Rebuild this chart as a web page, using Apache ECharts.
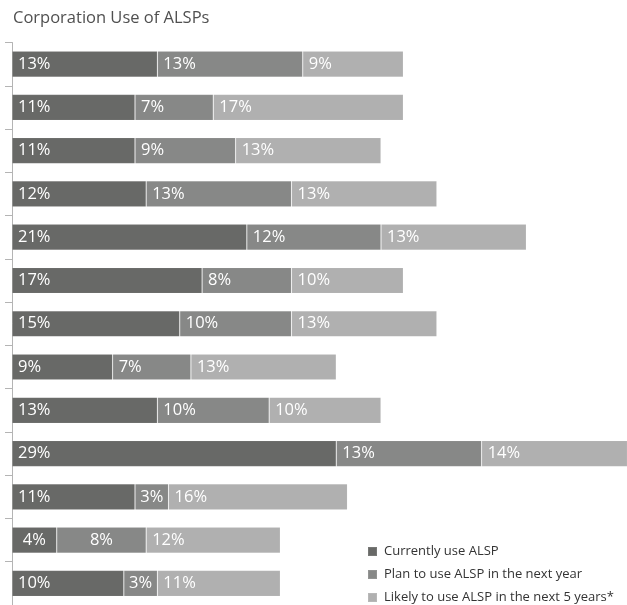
<!DOCTYPE html>
<html>
<head>
<meta charset="utf-8">
<script src="https://cdn.jsdelivr.net/npm/echarts@6/dist/echarts.min.js"></script>
<style>
  html, body { margin: 0; padding: 0; background: #fff; }
  #chart { width: 627px; height: 605px; }
</style>
</head>
<body>
<div id="chart"></div>
<script>
// Survey rows, listed top to bottom
const categories = ['1', '2', '3', '4', '5', '6', '7', '8', '9', '10', '11', '12', '13'];
const seriesNames = [
  'Currently use ALSP',
  'Plan to use ALSP in the next year',
  'Likely to use ALSP in the next 5 years*'
];
const currentlyUse = [13, 11, 11, 12, 21, 17, 15, 9, 13, 29, 11, 4, 10];
const planNextYear = [13, 7, 9, 13, 12, 8, 10, 7, 10, 13, 3, 8, 3];
const likelyFiveYears = [9, 17, 13, 13, 13, 10, 13, 13, 10, 14, 16, 12, 11];

const colors = ['#686967', '#878887', '#b0b0b0'];
const fontFamily = '"Open Sans", "Noto Sans", sans-serif';

// cells whose value label sits in the middle of the segment: [series, row]
const centeredCells = [[0, 11], [1, 11], [1, 10], [1, 12]];
const isCentered = (s, r) => centeredCells.some(c => c[0] === s && c[1] === r);

const allValues = [currentlyUse, planNextYear, likelyFiveYears];

const series = allValues.map((vals, s) => ({
  name: seriesNames[s],
  type: 'bar',
  stack: 'total',
  barWidth: 26,
  itemStyle: {
    color: colors[s],
    borderColor: 'rgba(255,255,255,0.1)',
    borderWidth: 0.8
  },
  label: {
    show: true,
    position: 'insideLeft',
    distance: 6,
    formatter: '{c}%',
    color: '#ffffff',
    fontSize: 16.5,
    fontFamily: fontFamily
  },
  data: vals.map((v, r) => isCentered(s, r)
    ? { value: v, label: { position: 'inside' } }
    : v)
}));

const chart = echarts.init(document.getElementById('chart'), null, { renderer: 'canvas' });
chart.setOption({
  animation: false,
  title: {
    text: 'Corporation Use of ALSPs',
    left: 8,
    top: 5,
    textStyle: {
      fontFamily: fontFamily,
      fontSize: 16.5,
      fontWeight: 'normal',
      color: '#505050'
    }
  },
  legend: {
    orient: 'vertical',
    left: 367,
    bottom: 0,
    height: 90,
    padding: [0, 5, 1, 0],
    itemWidth: 9,
    itemHeight: 9,
    itemGap: 10,
    icon: 'rect',
    data: seriesNames,
    textStyle: {
      fontFamily: fontFamily,
      fontSize: 13,
      color: '#333333',
      padding: [0, 0, 0, 2]
    }
  },
  grid: {
    left: 12,
    right: 0,
    top: 42.5,
    bottom: -5,
    containLabel: false
  },
  xAxis: {
    type: 'value',
    min: 0,
    max: 55,
    show: false
  },
  yAxis: {
    type: 'category',
    inverse: true,
    data: categories,
    axisLine: { show: true, lineStyle: { color: '#b4b4b4', width: 1 } },
    axisTick: { show: true, length: 7, lineStyle: { color: '#b4b4b4' } },
    axisLabel: { show: false }
  },
  series: series
});
</script>
</body>
</html>
